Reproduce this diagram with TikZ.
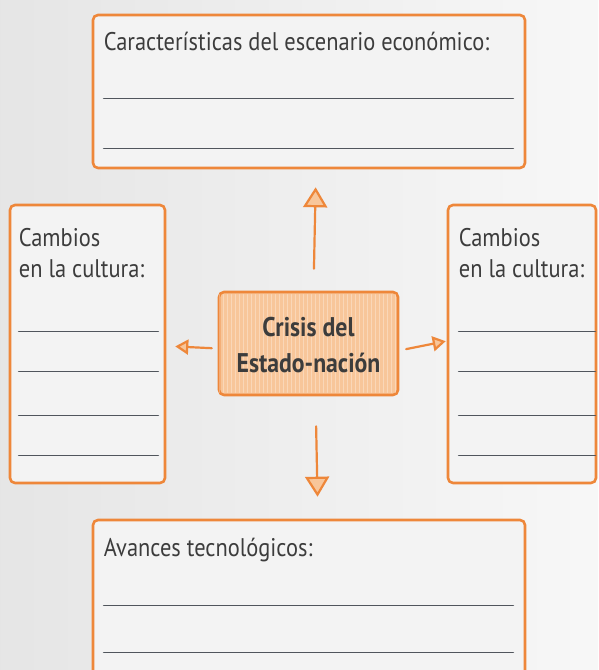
\documentclass[tikz,border=0pt]{standalone}
\usepackage{fontspec}
\setmainfont{PT Sans}[FakeStretch=0.88]
\usetikzlibrary{arrows.meta}
\definecolor{orng}{HTML}{EE873A}
\definecolor{orngfill}{HTML}{F8C69A}
\definecolor{ink}{HTML}{3C3C3C}
\definecolor{rule}{HTML}{50555C}
\definecolor{paper}{HTML}{F3F3F3}
\tikzset{
  every picture/.style={line join=round, line cap=round, >=Stealth},
  box/.style={draw=orng, line width=2.6pt, rounded corners=5pt, fill=paper, inner sep=0pt},
  hub/.style={box, fill=orngfill, text=ink, align=center,
    font=\fontsize{27}{36}\selectfont\bfseries},
  lbl/.style={inner sep=0pt, text=ink, align=left, font=\fontsize{25.5}{31}\selectfont},
  blank/.style={draw=rule, line width=1.6pt},
  arr/.style args={#1 and #2}{draw=orng, line width=2.2pt,
    -{Triangle[length=#1, width=#2, fill=orngfill]}},
}
\begin{document}
\begin{tikzpicture}[x=1pt,y=1pt]
\clip (0,0) rectangle (598,670);
\shade[left color=black!10, right color=black!3] (0,0) rectangle (598,670);
% boxes
\node[box, minimum width=432pt, minimum height=153pt] (econ) at (309,578.5) {};
\node[box, minimum width=155pt, minimum height=278pt] (cultL) at (87.5,326) {};
\node[box, minimum width=148pt, minimum height=278pt] (cultR) at (522,326) {};
\node[box, minimum width=432pt, minimum height=170pt] (tec) at (309,65) {};
\node[hub, minimum width=179pt, minimum height=103pt] (crisis) at (308.5,326.5) {};
\foreach \k in {2,6,...,178}
  \draw[white, opacity=0.3, line width=1.3pt]
    ([xshift=\k pt, yshift=4pt]crisis.south west) -- ([xshift=\k pt, yshift=-4pt]crisis.north west);
\node[hub, draw=none, fill=none] at ([yshift=-2pt]crisis) {Crisis del\\Estado-nación};
% texts
\node[lbl, anchor=base west] at ([shift={(12pt,-37pt)}]econ.north west) {Características del escenario económico:};
\node[lbl, anchor=north west] at ([shift={(10pt,-24pt)}]cultL.north west) {Cambios\\en la cultura:};
\node[lbl, anchor=north west] at ([shift={(12pt,-24pt)}]cultR.north west) {Cambios\\en la cultura:};
\node[lbl, anchor=base west] at ([shift={(12pt,-38pt)}]tec.north west) {Avances tecnológicos:};
% lines to write on
\foreach \d in {85,135}
  \draw[blank] ([shift={(12pt,-\d pt)}]econ.north west) -- ([shift={(-13pt,-\d pt)}]econ.north east);
\foreach \d in {87,134}
  \draw[blank] ([shift={(12pt,-\d pt)}]tec.north west) -- ([shift={(-13pt,-\d pt)}]tec.north east);
\foreach \d in {128,168,212,252}{
  \draw[blank] ([shift={(10pt,-\d pt)}]cultL.north west) -- ([shift={(-8pt,-\d pt)}]cultL.north east);
  \draw[blank] ([shift={(12pt,-\d pt)}]cultR.north west) -- ([shift={(-2pt,-\d pt)}]cultR.north east);
}
% arrows
\draw[arr=20pt and 24pt, shorten <=22pt, shorten >=18pt] ([xshift=5pt]crisis.north) -- ([xshift=7pt]econ.south);
\draw[arr=20pt and 24pt, shorten <=30pt, shorten >=22pt] ([xshift=7pt]crisis.south) -- ([xshift=9pt]tec.north);
\draw[arr=13pt and 15pt, shorten <=6pt, shorten >=9pt] ([yshift=-5pt]crisis.west) -- ([yshift=-2pt]cultL.east);
\draw[arr=13pt and 15pt, shorten <=7pt, shorten >=1pt] ([yshift=-7pt]crisis.east) -- ([yshift=3pt]cultR.west);
\end{tikzpicture}
\end{document}
